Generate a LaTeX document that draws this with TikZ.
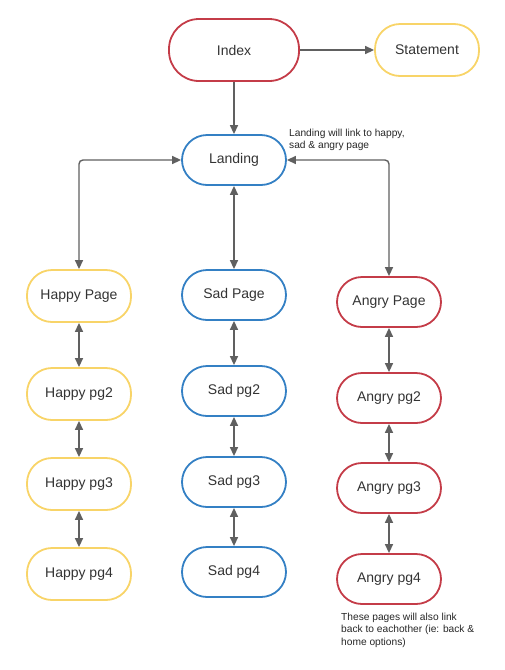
\documentclass[tikz,border=0pt]{standalone}
\usepackage{fontspec}
\setmainfont{Liberation Sans}
\usetikzlibrary{arrows.meta}

\definecolor{lucidred}{RGB}{196,60,72}
\definecolor{lucidblue}{RGB}{52,128,196}
\definecolor{lucidyellow}{RGB}{248,212,104}
\definecolor{linkgray}{RGB}{96,96,96}

\tikzset{
  pagebox/.style={draw,line width=1.8pt,rounded corners=25pt,minimum width=104pt,minimum height=50pt,font=\fontsize{14}{16}\selectfont,text=black!80},
  redbox/.style={pagebox,draw=lucidred},
  bluebox/.style={pagebox,draw=lucidblue},
  yellowbox/.style={pagebox,draw=lucidyellow},
  link/.style={line width=1.4pt,draw=linkgray,-{Triangle[length=9pt,width=8pt]}},
  twoway/.style={link,{Triangle[length=9pt,width=8pt]}-{Triangle[length=9pt,width=8pt]}},
  memo/.style={inner sep=0pt,align=left,anchor=north west,text=black!85,font=\fontsize{10.2}{12.4}\selectfont}
}

\begin{document}
\begin{tikzpicture}[x=1pt,y=-1pt]
\useasboundingbox (0,0) rectangle (504,670);
% top
\node[redbox,minimum width=130pt,minimum height=62pt,rounded corners=30pt] (index) at (234,50) {Index};
\node[yellowbox,minimum height=52pt] (statement) at (427,50) {Statement};
\node[bluebox] (landing) at (234,160) {Landing};
% happy column
\node[yellowbox,minimum height=52pt] (happy1) at (79,296) {Happy Page};
\node[yellowbox,minimum height=52pt] (happy2) at (79,394) {Happy pg2};
\node[yellowbox,minimum height=52pt] (happy3) at (79,484) {Happy pg3};
\node[yellowbox,minimum height=52pt] (happy4) at (79,574) {Happy pg4};
% sad column
\node[bluebox] (sad1) at (234,295) {Sad Page};
\node[bluebox] (sad2) at (234,391) {Sad pg2};
\node[bluebox] (sad3) at (234,482) {Sad pg3};
\node[bluebox] (sad4) at (234,572) {Sad pg4};
% angry column
\node[redbox] (angry1) at (389,302) {Angry Page};
\node[redbox] (angry2) at (389,398) {Angry pg2};
\node[redbox] (angry3) at (389,488) {Angry pg3};
\node[redbox] (angry4) at (389,579) {Angry pg4};
% notes
\node[memo] (landingnote) at (289,129) {Landing will link to happy,\\sad \& angry page};
\node[memo] (pagesnote) at (341,613) {These pages will also link\\back to eachother (ie: back \&\\home options)};
% links
\draw[link] (index) -- (statement);
\draw[link] (index) -- (landing);
\draw[twoway,rounded corners=4pt] (landing.west) -| (happy1.north);
\draw[twoway] (landing) -- (sad1);
\draw[twoway,rounded corners=4pt] (landing.east) -| (angry1.north);
\foreach \col in {happy,sad,angry}{
  \draw[twoway] (\col1) -- (\col2);
  \draw[twoway] (\col2) -- (\col3);
  \draw[twoway] (\col3) -- (\col4);
}
\end{tikzpicture}
\end{document}
